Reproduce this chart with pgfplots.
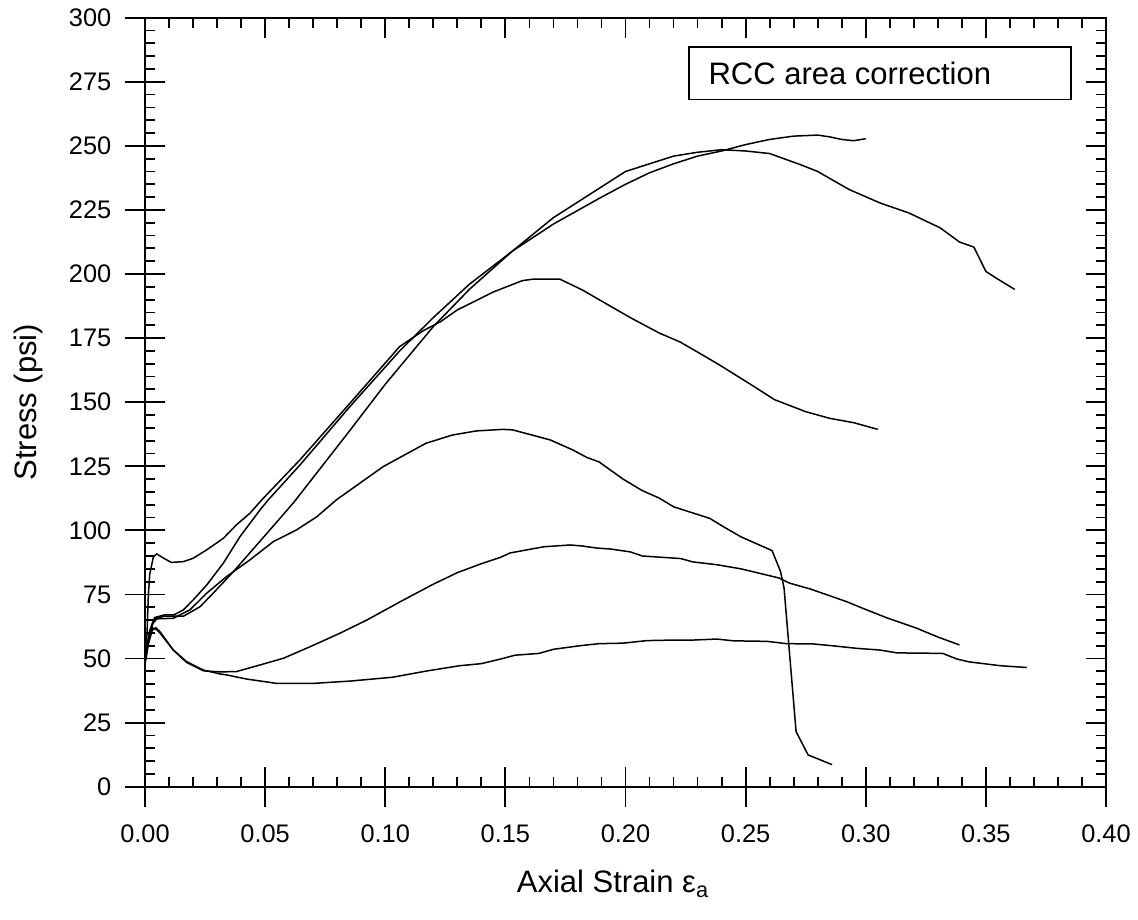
\documentclass[border=0pt]{standalone}
\usepackage{fontspec}
\setmainfont{Liberation Sans}
\usepackage{pgfplots}
\pgfplotsset{compat=1.18}

\begin{document}
\begin{tikzpicture}
\begin{axis}[
  scale only axis, width=480.5pt, height=384.5pt,
  xmin=0, xmax=0.4, ymin=0, ymax=300,
  xtick={0,0.05,0.1,0.15,0.2,0.25,0.3,0.35,0.4},
  ytick={0,25,50,75,100,125,150,175,200,225,250,275,300},
  minor x tick num=4, minor y tick num=4,
  tick align=inside,
  major tick length=10pt, minor tick length=5pt,
  every tick/.append style={black, line width=0.9pt},
  axis line style={line width=0.9pt},
  extra x ticks={0,0.05,0.1,0.15,0.2,0.25,0.3,0.35,0.4},
  extra x tick labels={},
  extra x tick style={tick align=outside, xtick pos=bottom, major tick length=10pt},
  extra y ticks={0,25,50,75,100,125,150,175,200,225,250,275,300},
  extra y tick labels={},
  extra y tick style={tick align=outside, ytick pos=left, major tick length=10pt},
  /pgf/number format/assume math mode=true,
  tick label style={font=\fontsize{12.7}{15}\selectfont},
  x tick label style={/pgf/number format/fixed, /pgf/number format/fixed zerofill, /pgf/number format/precision=2},
  xticklabel shift=15.5pt,
  yticklabel shift=13.3pt,
  xlabel={Axial Strain ε\textsubscript{a}},
  ylabel={Stress (psi)},
  label style={font=\fontsize{15.5}{18}\selectfont},
  xlabel style={at={(axis description cs:0.487,0)}, anchor=base, yshift=-53pt},
  ylabel style={at={(axis description cs:0,0.5)}, anchor=base, yshift=54pt},
  cycle list={{black}},
  every axis plot/.append style={line width=0.75pt},
  clip=false,
]
% curve F (lowest)
\addplot coordinates {(0,48.5)(0.0015,57)(0.003,62)(0.0045,61.5)(0.0062,60)(0.0118,53.3)(0.0173,48.8)(0.0243,45.5)(0.0312,44)(0.034,43.6)(0.0423,42)(0.0548,40.3)(0.070,40.3)(0.0853,41.2)(0.103,42.7)(0.117,45.1)(0.131,47.2)(0.140,48)(0.148,49.8)(0.154,51.3)(0.164,52)(0.170,53.6)(0.181,55)(0.189,55.8)(0.199,56)(0.209,57)(0.220,57.2)(0.228,57.2)(0.238,57.6)(0.245,56.9)(0.259,56.7)(0.267,55.8)(0.278,55.7)(0.287,54.9)(0.296,54)(0.306,53.3)(0.313,52.2)(0.332,52)(0.338,49.8)(0.343,48.7)(0.356,47.2)(0.367,46.5)};
% curve E
\addplot coordinates {(0,48)(0.0015,56)(0.003,61)(0.0045,62)(0.0062,60.5)(0.0118,53.3)(0.0173,48.5)(0.0243,45.2)(0.0312,44.8)(0.038,44.9)(0.0479,47.5)(0.0576,50.1)(0.0687,54.6)(0.0812,59.9)(0.0923,65)(0.1075,72.8)(0.12,79)(0.13,83.5)(0.14,87)(0.148,89.5)(0.152,91.2)(0.166,93.6)(0.177,94.3)(0.182,93.9)(0.188,93.1)(0.194,92.7)(0.202,91.6)(0.207,90)(0.223,89)(0.228,87.7)(0.238,86.6)(0.248,85)(0.264,81.4)(0.268,79.5)(0.277,77.1)(0.292,72.2)(0.299,69.5)(0.309,65.8)(0.321,61.9)(0.330,58.4)(0.339,55.3)};
% curve D
\addplot coordinates {(0,49)(0.0015,58)(0.003,63.5)(0.005,65.5)(0.0118,65.7)(0.0187,69)(0.0257,75.5)(0.034,82)(0.0437,88.5)(0.0534,95.6)(0.0631,100.2)(0.0715,105.3)(0.0798,112)(0.0992,124.9)(0.117,134)(0.128,137.2)(0.138,138.8)(0.149,139.4)(0.153,139.2)(0.1686,135.3)(0.178,131.4)(0.184,128.4)(0.189,126.7)(0.199,120)(0.207,115.5)(0.214,112.6)(0.220,109.2)(0.235,104.7)(0.241,101.3)(0.248,97.5)(0.261,92.1)(0.2645,84)(0.266,77.5)(0.271,21.5)(0.276,12.4)(0.286,8.6)};
% curve C (initial spike)
\addplot coordinates {(0,49)(0.0005,50)(0.0014,75)(0.002,83)(0.0035,89.7)(0.0049,90.8)(0.008,89)(0.011,87.5)(0.016,87.8)(0.020,89.1)(0.0257,92.4)(0.0326,96.9)(0.038,102.1)(0.0437,106.7)(0.0486,111.9)(0.0645,127.5)(0.0853,149.6)(0.106,171.7)(0.116,178)(0.123,181.4)(0.130,186)(0.145,193)(0.157,197.4)(0.1615,198)(0.1727,198)(0.182,193.8)(0.189,190)(0.202,183)(0.214,177)(0.2227,173.5)(0.231,169)(0.239,164.6)(0.252,157)(0.262,151)(0.275,146.3)(0.285,143.7)(0.295,142)(0.305,139.4)};
% curve B
\addplot coordinates {(0,49)(0.002,60)(0.004,65.5)(0.008,66.5)(0.016,66.5)(0.0229,70.2)(0.0284,75.5)(0.0368,83.9)(0.0465,94.3)(0.0562,104.7)(0.062,111)(0.0853,139)(0.10,157)(0.12,179.5)(0.135,194)(0.153,209)(0.17,222)(0.19,234)(0.20,240)(0.21,243)(0.22,246)(0.23,247.5)(0.24,248.5)(0.25,248)(0.26,247)(0.273,242.6)(0.28,240)(0.293,233)(0.306,227.7)(0.318,223.8)(0.331,218)(0.339,212.5)(0.345,210.5)(0.35,201)(0.355,198)(0.362,194)};
% curve A
\addplot coordinates {(0,49)(0.002,61)(0.004,66)(0.008,67)(0.012,67)(0.016,69)(0.020,72.8)(0.0257,78.7)(0.0326,87.2)(0.0395,97.5)(0.0479,108)(0.0513,111.9)(0.0645,125.5)(0.0853,148.3)(0.106,170)(0.12,183)(0.135,196)(0.153,209)(0.17,219.5)(0.19,230)(0.20,235)(0.21,239.5)(0.22,243)(0.23,246)(0.24,248)(0.25,250.5)(0.26,252.5)(0.27,253.8)(0.28,254.2)(0.285,253.5)(0.29,252.5)(0.295,252)(0.30,252.8)};
% label box
\draw[line width=0.7pt] (rel axis cs:0.566,0.894) rectangle (rel axis cs:0.9636,0.962);
\node[anchor=west, inner sep=0pt, font=\fontsize{15.5}{18}\selectfont] at (rel axis cs:0.586,0.928) {RCC area correction};
\end{axis}
\path (current axis.south west) ++(-72.5pt,-66.15pt) coordinate (bbsw);
\path (current axis.north east) ++(16pt,8.85pt) coordinate (bbne);
\path (bbsw) rectangle (bbne);
\end{tikzpicture}
\end{document}
